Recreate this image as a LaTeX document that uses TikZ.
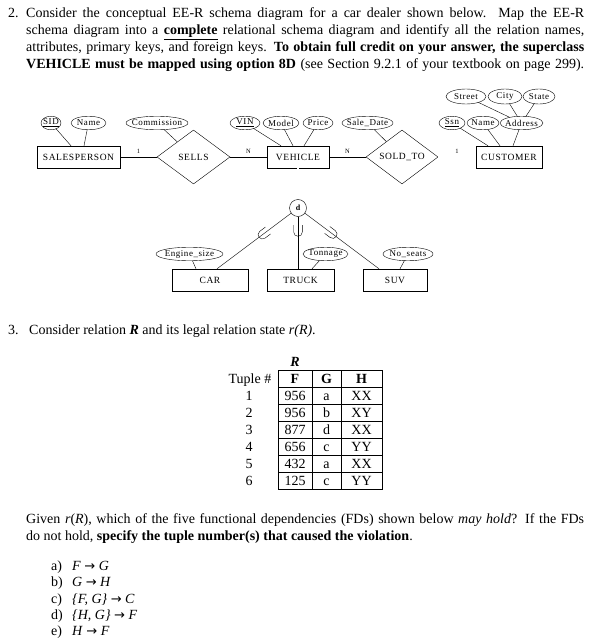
\documentclass[tikz,border=0pt]{standalone}
\usepackage{fontspec}
\setmainfont{Liberation Serif}
\newfontfamily\erfont[LetterSpace=6]{Liberation Serif}
\newfontfamily\arrowfont{DejaVu Sans}
\usetikzlibrary{shapes.geometric,calc,positioning}
\newcommand{\fdto}{{\arrowfont\fontsize{13}{14}\selectfont →}}
\newcommand{\us}{\symbol{"5F}}

\begin{document}
\begin{tikzpicture}[x = 1pt, y = 1pt,
  every node/.style = {inner sep = 0pt},
  entity/.style = {draw, minimum height = 22pt, font = \erfont\fontsize{9.5}{11}\selectfont},
  relship/.style = {draw, diamond, minimum width = 73pt, minimum height = 54pt, font = \erfont\fontsize{9.5}{11}\selectfont},
  attr/.style = {draw, ellipse, minimum height = 13.5pt, label = {[attrtext]center:#1}},
  attrtext/.style = {font = \erfont\fontsize{9}{10}\selectfont},
  card/.style = {font = \fontsize{6.5}{8}\selectfont, above = 3pt},
  body/.style = {anchor = base west, font = \fontsize{14}{17}\selectfont},
  cell/.style = {font = \fontsize{14}{17}\selectfont, text height = 9.4pt, text depth = 0pt},
  subsetU/.pic = {\draw (-4.3,6) -- (-4.3,-1) .. controls (-4.3,-6.5) and (4.3,-6.5) .. (4.3,-1) -- (4.3,6);}
  ]
  \useasboundingbox (0,0) rectangle (592,-644);

  % entities and relationships
  \node[entity, minimum width = 83pt] (salesperson) at (78.5,-157) {SALESPERSON};
  \node[relship] (sells) at (193.5,-157) {SELLS};
  \node[entity, minimum width = 62pt] (vehicle) at (298,-157) {VEHICLE};
  \node[relship, minimum width = 72pt] (soldto) at (402,-157) {SOLD\us TO};
  \node[entity, minimum width = 66pt] (customer) at (509,-157) {CUSTOMER};
  \draw (salesperson) -- node[card] {1} (sells);
  \draw (sells) -- node[card] {N} (vehicle);
  \draw (vehicle) -- node[card] {N} (soldto);
  \draw[double, double distance = 1.2pt] (soldto) -- node[card] {1} (customer);

  % attributes
  \node[attr = \underline{SID}, minimum width = 20pt] (sid) at (51,-123) {};
  \node[attr = Name, minimum width = 35pt] (spname) at (88.5,-123) {};
  \node[attr = Commission, minimum width = 62pt] (commission) at (157,-123) {};
  \node[attr = \underline{VIN}, minimum width = 30pt] (vin) at (245,-123) {};
  \node[attr = Model, minimum width = 36pt] (model) at (281,-123) {};
  \node[attr = Price, minimum width = 30pt] (price) at (318,-123) {};
  \node[attr = Sale\us Date, minimum width = 51pt] (saledate) at (367.5,-123) {};
  \node[attr = \underline{Ssn}, minimum width = 26pt] (ssn) at (452,-123) {};
  \node[attr = Name, minimum width = 32pt] (cname) at (483,-123) {};
  \node[attr = Address, minimum width = 43pt] (address) at (521.5,-123) {};
  \node[attr = Street, minimum width = 40pt, minimum height = 15pt] (street) at (466,-96.5) {};
  \node[attr = City, minimum width = 34pt, minimum height = 15pt] (city) at (505,-96.5) {};
  \node[attr = State, minimum width = 32pt, minimum height = 15pt] (state) at (539,-96.5) {};

  \draw[shorten <= 7.7pt] (sid.center) -- ([xshift = -7.5pt]salesperson.north);
  \draw[shorten <= 6.9pt] (spname.center) -- ([xshift = 5.5pt]salesperson.north);
  \draw[shorten <= 9.6pt] (commission.center) -- (sells);
  \draw[shorten <= 10.2pt] (vin.center) -- ([xshift = -17pt]vehicle.north);
  \draw[shorten <= 7.5pt] (model.center) -- ([xshift = -5pt]vehicle.north);
  \draw[shorten <= 7.6pt] (price.center) -- ([xshift = 6pt]vehicle.north);
  \draw[shorten <= 9.3pt] (saledate.center) -- (soldto);
  \draw[shorten <= 9.7pt] (ssn.center) -- ([xshift = -21pt]customer.north);
  \draw[shorten <= 8pt] (cname.center) -- ([xshift = -9pt]customer.north);
  \draw[shorten <= 7.1pt] (address.center) -- ([xshift = 4pt]customer.north);
  \draw[shorten <= 13.7pt, shorten >= 13.1pt] (street.center) -- (address.center);
  \draw[shorten <= 8.5pt, shorten >= 7.8pt] (city.center) -- (address.center);
  \draw[shorten <= 8.6pt, shorten >= 7.9pt] (state.center) -- (address.center);

  % specialization
  \node[draw, circle, minimum size = 17pt, font = \bfseries\fontsize{8}{9}\selectfont] (vd) at (298,-208) {d};
  \node[entity, minimum width = 76pt] (car) at (210,-280) {CAR};
  \node[entity, minimum width = 67pt] (truck) at (300.5,-280) {TRUCK};
  \node[entity, minimum width = 64pt] (suv) at (395,-280) {SUV};
  \draw[double, double distance = 1.2pt, shorten >= 8.5pt] (vehicle.south) -- (vd.center);
  \draw[shorten <= 8.5pt] (vd.center) -- ([xshift = 7pt]car.north);
  \draw[shorten <= 8.5pt] (vd.center) -- (vd |- truck.north);
  \draw[shorten <= 8.5pt] (vd.center) -- ([xshift = -16pt]suv.north);
  \pic[rotate = -53] at ($(vd)!.43!([xshift = 7pt]car.north)$) {subsetU};
  \pic at ($(vd)!.38!(vd |- truck.north)$) {subsetU};
  \pic[rotate = 53] at ($(vd)!.42!([xshift = -16pt]suv.north)$) {subsetU};
  \node[attr = Engine\us size, minimum width = 67pt] (engine) at (189.5,-254) {};
  \node[attr = Tonnage, minimum width = 45pt] (tonnage) at (325.5,-254) {};
  \node[attr = No\us seats, minimum width = 50pt] (noseats) at (408,-254) {};
  \draw[shorten <= 7.3pt] (engine.center) -- ([xshift = -14pt]car.north);
  \draw[shorten <= 8.8pt] (tonnage.center) -- ([xshift = 11.5pt]truck.north);
  \draw[shorten <= 7.6pt] (noseats.center) -- ([xshift = 5pt]suv.north);

  % question 2
  \node[body] (num2) at (8,-17.5) {2.};
  \node[body] (q2a) at (26,-17.5) {\makebox[558pt][s]{Consider the conceptual EE-R schema diagram for a car dealer shown below. Map the EE-R}};
  \node[body] (q2b) at (26,-34.5) {\makebox[558pt][s]{schema diagram into a \textbf{\underline{complete}} relational schema diagram and identify all the relation names,}};
  \node[body] (q2c) at (26,-51.5) {\makebox[558pt][s]{attributes, primary keys, and foreign keys. \textbf{To obtain full credit on your answer, the superclass}}};
  \node[body] (q2d) at (26,-68.5) {\makebox[558pt][s]{\textbf{VEHICLE must be mapped using option 8D} (see Section 9.2.1 of your textbook on page 299).}};

  % question 3
  \node[body] (num3) at (8,-334) {3.};
  \node[body] (q3a) at (29,-334) {Consider relation \textbf{\textit{R}} and its legal relation state \textit{r(R)}.};

  \node[cell, font = \bfseries\itshape\fontsize{14}{17}\selectfont] (relname) at (295,-361.5) {R};
  \node[cell] (tuplehead) at (250,-378.5) {Tuple \#};
  \node[cell, font = \bfseries\fontsize{14}{17}\selectfont] (fhead) at (295,-378.5) {F};
  \node[cell, font = \bfseries\fontsize{14}{17}\selectfont] (ghead) at (326.5,-378.5) {G};
  \node[cell, font = \bfseries\fontsize{14}{17}\selectfont] (hhead) at (361.5,-378.5) {H};
  \foreach \f/\g/\h [count = \i] in {956/a/XX, 956/b/XY, 877/d/XX, 656/c/YY, 432/a/XX, 125/c/YY} {
    \node[cell] (t\i) at (249, -378.5 - 17*\i) {\i};
    \node[cell] (f\i) at (295, -378.5 - 17*\i) {\f};
    \node[cell] (g\i) at (326.5, -378.5 - 17*\i) {\g};
    \node[cell] (h\i) at (361.5, -378.5 - 17*\i) {\h};
  }
  \draw (278,-370) rectangle (382,-489);
  \foreach \r in {1,...,6}
    \draw (278, -370 - 17*\r) -- (382, -370 - 17*\r);
  \draw (312,-370) -- (312,-489);
  \draw (341,-370) -- (341,-489);

  \node[body] (q3b) at (26,-523) {\makebox[558pt][s]{Given \textit{r}(\textit{R}), which of the five functional dependencies (FDs) shown below \textit{may hold}? If the FDs}};
  \node[body] (q3c) at (26,-540) {do not hold, \textbf{specify the tuple number(s) that caused the violation}.};

  % functional dependencies
  \node[body] (la) at (51,-570.5) {a)};
  \node[body] (fda) at (72,-570.5) {\textit{F} \fdto{} \textit{G}};
  \node[body] (lb) at (51,-586.75) {b)};
  \node[body] (fdb) at (72,-586.75) {\textit{G} \fdto{} \textit{H}};
  \node[body] (lc) at (51,-603) {c)};
  \node[body] (fdc) at (72,-603) {\textit{\{F, G\}} \fdto{} \textit{C}};
  \node[body] (ld) at (51,-619.25) {d)};
  \node[body] (fdd) at (72,-619.25) {\textit{\{H, G\}} \fdto{} \textit{F}};
  \node[body] (le) at (51,-635.5) {e)};
  \node[body] (fde) at (72,-635.5) {\textit{H} \fdto{} \textit{F}};
\end{tikzpicture}
\end{document}
